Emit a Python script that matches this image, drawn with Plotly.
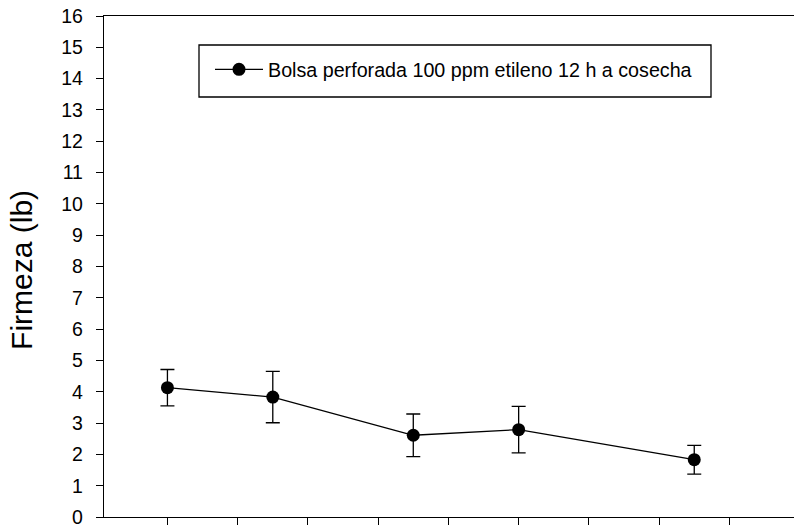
import plotly.graph_objects as go

# Storage time (days) and firmness readings with their error bars
dias = [0, 3, 7, 10, 15]
firmeza = [4.13, 3.83, 2.61, 2.79, 1.83]
error = [0.58, 0.82, 0.68, 0.74, 0.46]
serie = "Bolsa perforada 100 ppm etileno 12 h a cosecha"

ticks_x = list(range(0, 17, 2))
ticks_y = list(range(0, 17))

FONT = "Liberation Sans, Arial, sans-serif"

# plot area in pixels (used to place the legend frame in paper units)
W, H = 794, 525
L, R, T, B = 104, 0, 16, 8
PW, PH = W - L - R, H - T - B


def px_x(p):
    return (p - L) / PW


def px_y(p):
    return (H - B - p) / PH


fig = go.Figure()
fig.add_trace(go.Scatter(
    x=dias, y=firmeza, name=serie, mode="lines+markers",
    line=dict(color="black", width=1.3),
    marker=dict(color="black", size=13),
    error_y=dict(type="data", array=error, visible=True,
                 color="black", thickness=1.3, width=7),
))

fig.update_layout(
    width=W, height=H,
    margin=dict(l=L, r=R, t=T, b=B, autoexpand=False),
    paper_bgcolor="white", plot_bgcolor="white",
    font=dict(family=FONT, color="black"),
    showlegend=True,
    legend=dict(
        x=px_x(210), y=px_y(50), xanchor="left", yanchor="top",
        borderwidth=0, bgcolor="rgba(0,0,0,0)",
        itemwidth=48,
        font=dict(size=19.7, family=FONT, color="black"),
    ),
    xaxis=dict(
        range=[-1.806, 17.84], tickvals=ticks_x, showticklabels=False,
        ticks="outside", ticklen=7, tickwidth=1.3, tickcolor="black",
        showline=True, linecolor="black", linewidth=1.3, mirror=True,
        showgrid=False, zeroline=False, automargin=False,
    ),
    yaxis=dict(
        range=[0, 16], tickvals=ticks_y,
        ticks="outside", ticklen=7, tickwidth=1.3, tickcolor="black",
        showline=True, linecolor="black", linewidth=1.3,
        showgrid=False, zeroline=False, automargin=False,
        tickfont=dict(size=19.5, family=FONT, color="black"),
        ticklabelstandoff=9, ticklabeloverflow="allow",
    ),
    shapes=[dict(
        type="rect", xref="paper", yref="paper",
        x0=px_x(199), x1=px_x(711), y0=px_y(97), y1=px_y(45),
        line=dict(color="black", width=1.3), fillcolor="rgba(0,0,0,0)",
    )],
    annotations=[dict(
        text="Firmeza (lb)", textangle=-90,
        xref="paper", yref="paper", x=0, y=0.5,
        xanchor="center", yanchor="middle", xshift=-82.6, yshift=-3,
        showarrow=False, font=dict(size=30, family=FONT, color="black"),
    )],
)

fig.write_html("out.html")
